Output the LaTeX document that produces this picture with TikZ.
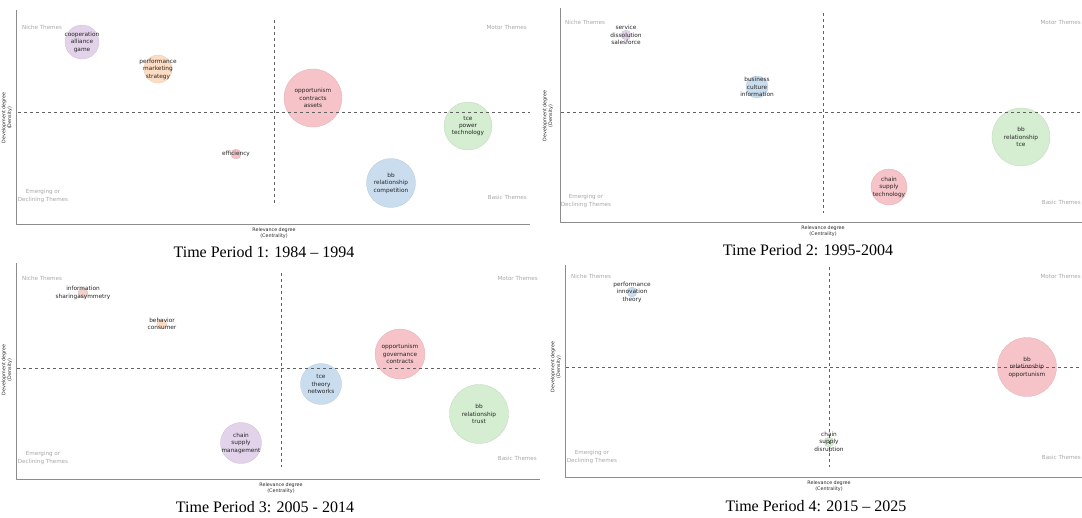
\documentclass[tikz,border=0pt]{standalone}
\usepackage{fontspec}
\setmainfont{Liberation Serif}
\newfontfamily\mapfont{DejaVu Sans}
\definecolor{cpurple}{HTML}{E3D3EA}
\definecolor{corange}{HTML}{FCDDC3}
\definecolor{ctan}{HTML}{F1D3CB}
\definecolor{cred}{HTML}{F6C3C8}
\definecolor{cgreen}{HTML}{D5EDD1}
\definecolor{cblue}{HTML}{CADDEF}
\pgfdeclarelayer{bubbles}
\pgfsetlayers{bubbles,main}
\tikzset{
	axisline/.style={draw=black!45, line width=0.9pt},
	quadline/.style={draw=black!62, line width=0.7pt, dash pattern=on 3.3pt off 2.7pt},
	theme/.style={font=\mapfont\fontsize{5.6}{7.8}\selectfont, text=black!35, inner sep=0pt, align=center},
	bubble/.style={circle, fill=#1, draw=#1!90!black, line width=0.3pt, inner sep=0pt},
	bubtext/.style={font=\mapfont\fontsize{5.8}{7.4}\selectfont, text=black!85, align=center, inner sep=0pt},
	axlabel/.style={font=\mapfont\fontsize{4.8}{5.8}\selectfont, text=black!85, align=center, inner sep=0pt},
	caption/.style={font=\fontsize{16}{18}\selectfont, inner sep=0pt}
}
% name, x, y, diameter, colour, words
\newcommand{\bub}[6]{%
	\begin{pgfonlayer}{bubbles}
		\node[bubble=#5, minimum size=#4pt] (#1) at (#2,#3) {};
	\end{pgfonlayer}
	\node[bubtext] (#1-t) at (#1) {#6};}
\begin{document}
\begin{tikzpicture}[x=1pt, y=-1pt, line join=round]
	\useasboundingbox (0,0) rectangle (1082,517);
	% Time Period 1
	\begin{scope}
		\def \xl{16}
		\def \xr{530}
		\def \ym{112}
		\def \xm{274}
		\draw[axisline] (\xl,10) -- (\xl,224) -- (\xr,224);
		\draw[quadline] (\xl+2,\ym) -- (\xr,\ym);
		\draw[quadline] (\xm,20) -- (\xm,205);
		\node[theme, anchor=west] (p1-niche) at (22,27) {Niche Themes};
		\node[theme, anchor=east] (p1-motor) at (527,27) {Motor Themes};
		\node[theme] (p1-emerg) at (43,196) {Emerging or\\Declining Themes};
		\node[theme, anchor=east] (p1-basic) at (527,197) {Basic Themes};
		\node[axlabel, rotate=90] (p1-ylab) at (7,118) {Development degree\\(Density)};
		\node[axlabel] (p1-xlab) at (\xm,233) {Relevance degree\\(Centrality)};
		\node[caption] (p1-cap) at (264,252) {Time Period 1: 1984 -- 1994};
		\bub{coop}{82}{42}{34}{cpurple}{cooperation\\alliance\\game}
		\bub{perf}{158}{69}{28}{corange}{performance\\marketing\\strategy}
		\bub{opp}{313}{98}{58}{cred}{opportunism\\contracts\\assets}
		\bub{tce}{468}{126}{48}{cgreen}{tce\\power\\technology}
		\bub{bb}{391}{183}{49}{cblue}{bb\\relationship\\competition}
		\bub{eff}{236}{154}{10}{cred}{efficiency}
	\end{scope}
	% Time Period 2
	\begin{scope}
		\def \xl{560}
		\def \xr{1082}
		\def \ym{112}
		\def \xm{823}
		\draw[axisline] (\xl,8) -- (\xl,222) -- (\xr,222);
		\draw[quadline] (\xl+1,\ym) -- (\xr,\ym);
		\draw[quadline] (\xm,13) -- (\xm,213);
		\node[theme, anchor=west] (p2-niche) at (565,22) {Niche Themes};
		\node[theme, anchor=east] (p2-motor) at (1081,22) {Motor Themes};
		\node[theme] (p2-emerg) at (586,201) {Emerging or\\Declining Themes};
		\node[theme, anchor=east] (p2-basic) at (1081,202) {Basic Themes};
		\node[axlabel, rotate=90] (p2-ylab) at (548,116) {Development degree\\(Density)};
		\node[axlabel] (p2-xlab) at (\xm,231) {Relevance degree\\(Centrality)};
		\node[caption] (p2-cap) at (808,250) {Time Period 2: 1995-2004};
		\bub{serv}{626}{35}{10}{cpurple}{service\\dissolution\\salesforce}
		\bub{bus}{757}{87}{22}{cblue}{business\\culture\\information}
		\bub{bbtwo}{1021}{137}{58}{cgreen}{bb\\relationship\\tce}
		\bub{chain}{889}{187}{36}{cred}{chain\\supply\\technology}
	\end{scope}
	% Time Period 3
	\begin{scope}
		\def \xl{16}
		\def \xr{540}
		\def \ym{368}
		\def \xm{281}
		\draw[axisline] (\xl,263) -- (\xl,479) -- (\xr,479);
		\draw[quadline] (\xl+1,\ym) -- (\xr,\ym);
		\draw[quadline] (\xm,273) -- (\xm,467);
		\node[theme, anchor=west] (p3-niche) at (22,278) {Niche Themes};
		\node[theme, anchor=east] (p3-motor) at (538,278) {Motor Themes};
		\node[theme] (p3-emerg) at (43,458) {Emerging or\\Declining Themes};
		\node[theme, anchor=east] (p3-basic) at (537,458) {Basic Themes};
		\node[axlabel, rotate=90] (p3-ylab) at (7,370) {Development degree\\(Density)};
		\node[axlabel] (p3-xlab) at (\xm,488) {Relevance degree\\(Centrality)};
		\node[caption] (p3-cap) at (265,507) {Time Period 3: 2005 - 2014};
		\bub{info}{83}{293}{10}{ctan}{information\\sharingasymmetry}
		\bub{beh}{162}{324}{10}{corange}{behavior\\consumer}
		\bub{oppthree}{400}{354}{50}{cred}{opportunism\\governance\\contracts}
		\bub{tcethree}{321}{384}{41}{cblue}{tce\\theory\\networks}
		\bub{bbthree}{479}{414}{59}{cgreen}{bb\\relationship\\trust}
		\bub{chainthree}{241}{443}{41}{cpurple}{chain\\supply\\management}
	\end{scope}
	% Time Period 4
	\begin{scope}
		\def \xl{565}
		\def \xr{1082}
		\def \ym{367}
		\def \xm{829}
		\draw[axisline] (\xl,265) -- (\xl,477) -- (\xr,477);
		\draw[quadline] (\xl+1,\ym) -- (\xr,\ym);
		\draw[quadline] (\xm,267) -- (\xm,467);
		\node[theme, anchor=west] (p4-niche) at (571,276) {Niche Themes};
		\node[theme, anchor=east] (p4-motor) at (1081,276) {Motor Themes};
		\node[theme] (p4-emerg) at (592,457) {Emerging or\\Declining Themes};
		\node[theme, anchor=east] (p4-basic) at (1081,457) {Basic Themes};
		\node[axlabel, rotate=90] (p4-ylab) at (556,367) {Development degree\\(Density)};
		\node[axlabel] (p4-xlab) at (\xm,486) {Relevance degree\\(Centrality)};
		\node[caption] (p4-cap) at (816,506) {Time Period 4: 2015 -- 2025};
		\bub{perffour}{632}{292}{10}{cblue}{performance\\innovation\\theory}
		\bub{bbfour}{1027}{367}{59}{cred}{bb\\relationship\\opportunism}
		\bub{chainfour}{829}{442}{10}{cgreen}{chain\\supply\\disruption}
	\end{scope}
\end{tikzpicture}
\end{document}
